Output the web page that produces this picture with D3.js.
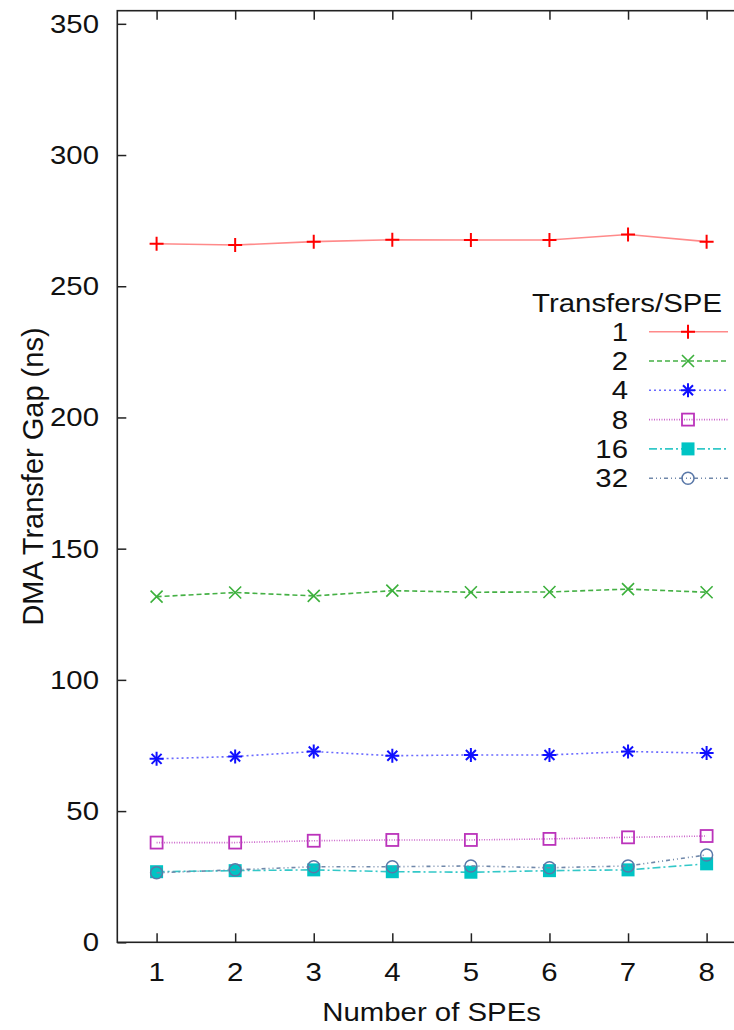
<!DOCTYPE html>
<html><head><meta charset="utf-8">
<script src="https://cdn.jsdelivr.net/npm/d3@7"></script>
<style>html,body{margin:0;padding:0;background:#fff;overflow:hidden}</style>
</head><body>
<svg id="c" width="734" height="1030"></svg>
<script>
// ---- data ----
const spes = [1, 2, 3, 4, 5, 6, 7, 8];
const seriesNames = ["1", "2", "4", "8", "16", "32"];
const gap1  = [266.2, 265.7, 267.0, 267.7, 267.6, 267.6, 269.7, 267.0];
const gap2  = [131.7, 133.3, 132.0, 134.0, 133.4, 133.5, 134.6, 133.4];
const gap4  = [69.9, 70.8, 72.7, 71.1, 71.4, 71.4, 72.7, 72.1];
const gap8  = [38.0, 38.0, 38.7, 39.0, 39.0, 39.4, 40.0, 40.5];
const gap16 = [26.9, 27.3, 27.6, 26.9, 26.7, 27.3, 27.6, 29.9];
const gap32 = [26.5, 27.6, 28.8, 28.8, 29.1, 28.4, 29.1, 33.3];
const yTicks = [0, 50, 100, 150, 200, 250, 300, 350];
const xTicks = [1, 2, 3, 4, 5, 6, 7, 8];
const legendTitle = "Transfers/SPE";
const xTitle = "Number of SPEs";
const yTitle = "DMA Transfer Gap (ns)";

const seriesValues = [gap1, gap2, gap4, gap8, gap16, gap32];
const styles = [
  {line: "#ff8a8a", dash: null,        marker: "plus",   color: "#ff0000"},
  {line: "#44b044", dash: "5,3",       marker: "cross",  color: "#3cb03c"},
  {line: "#6a6aff", dash: "2,3",       marker: "star",   color: "#1010ff"},
  {line: "#cc66cc", dash: "1,1.5",     marker: "square", color: "#bb33bb"},
  {line: "#33c8c8", dash: "8,3,2,3",   marker: "fsquare",color: "#00c4c4"},
  {line: "#7088aa", dash: "4,3,1,3,1,3", marker: "circle", color: "#5a78a8"}
];

// ---- layout ----
const L = 117.3, R = 745.9, T = 10.7, B = 942.3;
const FS = 26, SX = 1.13;
const font = "'Liberation Sans', Arial, Helvetica, sans-serif";

const x = d3.scaleLinear().domain([0.5, 8.5]).range([L, R]);
const y = d3.scaleLinear().domain([0, 355]).range([B, T]);

const svg = d3.select("#c");

function label(px, py, txt, anchor, rot, size) {
  const t = svg.append("text")
    .attr("transform", `translate(${px},${py})` + (rot ? ` rotate(${rot})` : "") + (rot ? "" : ` scale(${SX},1)`))
    .attr("text-anchor", anchor)
    .style("font-family", font)
    .style("font-size", (size || FS) + "px")
    .style("fill", "#111")
    .text(txt);
  return t;
}

// axes (ticks inward, no labels)
const axCol = "#222";
function styleAxis(g) {
  g.select(".domain").remove();
  g.selectAll("line").attr("stroke", axCol).attr("stroke-width", 1.5);
  g.selectAll("text").remove();
}
svg.append("g").attr("transform", `translate(${L},0)`)
  .call(d3.axisLeft(y).tickValues(yTicks).tickSize(-9)).call(styleAxis);
svg.append("g").attr("transform", `translate(0,${B})`)
  .call(d3.axisBottom(x).tickValues(xTicks).tickSize(-9)).call(styleAxis);
svg.append("g").attr("transform", `translate(0,${T})`)
  .call(d3.axisTop(x).tickValues(xTicks).tickSize(-9)).call(styleAxis);

svg.append("rect").attr("x", L).attr("y", T).attr("width", R - L).attr("height", B - T)
  .attr("fill", "none").attr("stroke", axCol).attr("stroke-width", 1.6);

// tick labels
yTicks.forEach(v => label(99, y(v) + 9, String(v), "end"));
xTicks.forEach(v => label(x(v), 981, String(v), "middle"));
label(x(4.5), 1021, xTitle, "middle");
label(43, (T + B) / 2, yTitle, "middle", -90, 29);

// markers
function marker(g, kind, cx, cy, color) {
  const h = 7;
  if (kind === "plus" || kind === "star") {
    g.append("path").attr("d", `M${cx-h},${cy}H${cx+h}M${cx},${cy-h}V${cy+h}`)
      .attr("stroke", color).attr("stroke-width", 2).attr("fill", "none");
  }
  if (kind === "cross" || kind === "star") {
    const d = kind === "star" ? 5 : 6;
    g.append("path").attr("d", `M${cx-d},${cy-d}L${cx+d},${cy+d}M${cx-d},${cy+d}L${cx+d},${cy-d}`)
      .attr("stroke", color).attr("stroke-width", kind === "star" ? 2 : 1.6).attr("fill", "none");
  }
  if (kind === "square") {
    g.append("rect").attr("x", cx - 6).attr("y", cy - 6).attr("width", 12).attr("height", 12)
      .attr("fill", "none").attr("stroke", color).attr("stroke-width", 1.8);
  }
  if (kind === "fsquare") {
    g.append("rect").attr("x", cx - 6.5).attr("y", cy - 6.5).attr("width", 13).attr("height", 13)
      .attr("fill", color);
  }
  if (kind === "circle") {
    g.append("circle").attr("cx", cx).attr("cy", cy).attr("r", 6)
      .attr("fill", "none").attr("stroke", color).attr("stroke-width", 1.5);
  }
}

const line = d3.line().x((d, i) => x(spes[i])).y(d => y(d));
seriesValues.forEach((vals, si) => {
  const st = styles[si];
  const g = svg.append("g");
  g.append("path").attr("d", line(vals)).attr("fill", "none")
    .attr("stroke", st.line).attr("stroke-width", 1.6)
    .attr("stroke-dasharray", st.dash);
  vals.forEach((v, i) => marker(g, st.marker, x(spes[i]), y(v), st.color));
});

// legend
const legTop = 331.7, legStep = 29.3;
label(722, 312, legendTitle, "end");
seriesNames.forEach((n, i) => {
  const st = styles[i];
  const ly = legTop + i * legStep;
  label(628, ly + 9, n, "end");
  const g = svg.append("g");
  g.append("path").attr("d", `M649,${ly}H728`).attr("fill", "none")
    .attr("stroke", st.line).attr("stroke-width", 1.6).attr("stroke-dasharray", st.dash);
  marker(g, st.marker, 688, ly, st.color);
});
</script>
</body></html>
